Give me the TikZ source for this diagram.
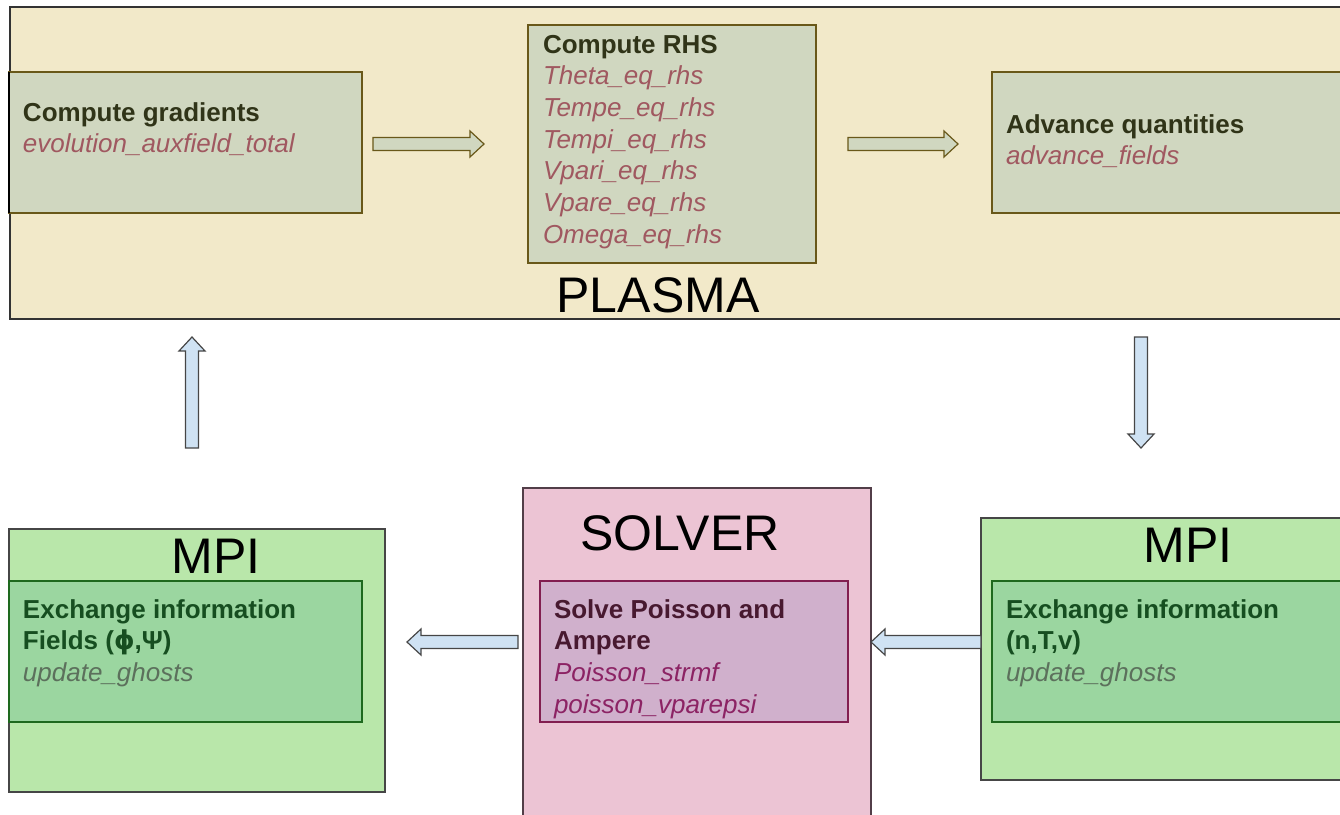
\documentclass[tikz,border=0pt]{standalone}
\usepackage{fontspec}
\setmainfont{Liberation Sans}
\newfontfamily\djv{DejaVu Sans}
\usetikzlibrary{calc}
\definecolor{plasmabg}{RGB}{242,233,201}
\definecolor{plasmain}{RGB}{208,215,192}
\definecolor{olive}{RGB}{105,88,25}
\definecolor{olivetext}{RGB}{48,52,24}
\definecolor{redtext}{RGB}{160,88,96}
\definecolor{mpibg}{RGB}{185,231,170}
\definecolor{mpiin}{RGB}{155,214,160}
\definecolor{mpiedge}{RGB}{30,105,30}
\definecolor{mpitext}{RGB}{22,78,32}
\definecolor{mpiital}{RGB}{92,112,92}
\definecolor{solbg}{RGB}{236,196,212}
\definecolor{solin}{RGB}{208,176,204}
\definecolor{soledge}{RGB}{130,30,80}
\definecolor{soltext}{RGB}{72,25,48}
\definecolor{solital}{RGB}{140,35,100}
\definecolor{bluearr}{RGB}{207,226,243}
\definecolor{darkedge}{RGB}{70,70,70}
\newcommand\firstln{\rule{0pt}{20pt}}
\newcommand\blockarrow[3]{%
  \coordinate (hb) at ($(#3)!14pt!(#2)$);
  \draw[#1] ($(#2)!6.5pt!90:(#3)$) -- ($(hb)!6.5pt!90:(#3)$) -- ($(hb)!13pt!90:(#3)$) -- (#3)
    -- ($(hb)!13pt!-90:(#3)$) -- ($(hb)!6.5pt!-90:(#3)$) -- ($(#2)!6.5pt!-90:(#3)$) -- cycle;}
\begin{document}
\begin{tikzpicture}[x=1pt,y=-1pt,
  box/.style={rectangle, anchor=north west, inner sep=0, outer sep=0, line width=1.2pt},
  txt/.style={anchor=north west, inner sep=0, outer sep=0, align=left, font=\fontsize{26}{31.7}\selectfont},
  title/.style={anchor=base, inner sep=0, font=\fontsize{50}{60}\selectfont, text=black},
  plasmaarrow/.style={fill=plasmain, draw=olive, line width=1.2pt},
  bluearrow/.style={fill=bluearr, draw=darkedge, line width=1.2pt}]
\useasboundingbox (0,0) rectangle (1340,814);
\clip (0,0) rectangle (1340,814);
% PLASMA block
\node[box, fill=plasmabg, draw=black!80, minimum width=1345pt, minimum height=312pt] (plasma) at (10,7) {};
\node[box, fill=plasmain, draw=olive, minimum width=353pt, minimum height=141pt] (grad) at (9,72) {};
\draw[line width=2pt, black] (grad.north west) -- (grad.south west);
\node[box, fill=plasmain, draw=olive, minimum width=288pt, minimum height=238pt] (rhs) at (528,25) {};
\node[box, fill=plasmain, draw=olive, minimum width=360pt, minimum height=141pt] (adv) at (992,72) {};
\node[txt] (gradtxt) at (23,101) {\firstln{\bfseries\color{olivetext}Compute gradients}\\
  {\itshape\color{redtext}evolution\_auxfield\_total}};
\node[txt] (rhstxt) at (543,33) {\firstln{\bfseries\color{olivetext}Compute RHS}\\
  {\itshape\color{redtext}Theta\_eq\_rhs}\\
  {\itshape\color{redtext}Tempe\_eq\_rhs}\\
  {\itshape\color{redtext}Tempi\_eq\_rhs}\\
  {\itshape\color{redtext}Vpari\_eq\_rhs}\\
  {\itshape\color{redtext}Vpare\_eq\_rhs}\\
  {\itshape\color{redtext}Omega\_eq\_rhs}};
\node[txt] (advtxt) at (1006,113) {\firstln{\bfseries\color{olivetext}Advance quantities}\\
  {\itshape\color{redtext}advance\_fields}};
\node[title] (plasmatitle) at (658,312) {PLASMA};
% MPI left
\node[box, fill=mpibg, draw=darkedge, minimum width=376pt, minimum height=263pt] (mpiL) at (9,529) {};
\node[box, fill=mpiin, draw=mpiedge, minimum width=353pt, minimum height=141pt] (mpiLin) at (9,581) {};
\node[title] (mpiLtitle) at (216,573) {MPI};
\node[txt] (mpiLtxt) at (23,598) {\firstln{\bfseries\color{mpitext}Exchange information}\\
  {\bfseries\color{mpitext}Fields ({\djv ϕ},Ψ)}\\
  {\itshape\color{mpiital}update\_ghosts}};
% SOLVER
\node[box, fill=solbg, draw=darkedge!80!soledge, minimum width=348pt, minimum height=345pt] (sol) at (523,488) {};
\node[box, fill=solin, draw=soledge, minimum width=308pt, minimum height=141pt] (solin) at (540,581) {};
\node[title] (soltitle) at (680,550) {SOLVER};
\node[txt] (soltxt) at (554,598) {\firstln{\bfseries\color{soltext}Solve Poisson and}\\
  {\bfseries\color{soltext}Ampere}\\
  {\itshape\color{solital}Poisson\_strmf}\\
  {\itshape\color{solital}poisson\_vparepsi}};
% MPI right
\node[box, fill=mpibg, draw=darkedge, minimum width=370pt, minimum height=262pt] (mpiR) at (981,518) {};
\node[box, fill=mpiin, draw=mpiedge, minimum width=360pt, minimum height=141pt] (mpiRin) at (992,581) {};
\node[title] (mpiRtitle) at (1188,562) {MPI};
\node[txt] (mpiRtxt) at (1006,598) {\firstln{\bfseries\color{mpitext}Exchange information}\\
  {\bfseries\color{mpitext}(n,T,v)}\\
  {\itshape\color{mpiital}update\_ghosts}};
% arrow end points
\coordinate (a1s) at (373,144);
\coordinate (a1e) at (484,144);
\coordinate (a2s) at (848,144);
\coordinate (a2e) at (958,144);
\coordinate (dns) at (1141,337);
\coordinate (dne) at (1141,448);
\coordinate (ups) at (192,448);
\coordinate (upe) at (192,337);
\coordinate (lvl) at (0,642);
\coordinate (l1s) at (mpiR.west |- lvl);
\coordinate (l1e) at (sol.east |- lvl);
\coordinate (l2s) at (518,642);
\coordinate (l2e) at (407,642);
\blockarrow{plasmaarrow}{a1s}{a1e}
\blockarrow{plasmaarrow}{a2s}{a2e}
\blockarrow{bluearrow}{dns}{dne}
\blockarrow{bluearrow}{ups}{upe}
\blockarrow{bluearrow}{l1s}{l1e}
\blockarrow{bluearrow}{l2s}{l2e}
\end{tikzpicture}
\end{document}
